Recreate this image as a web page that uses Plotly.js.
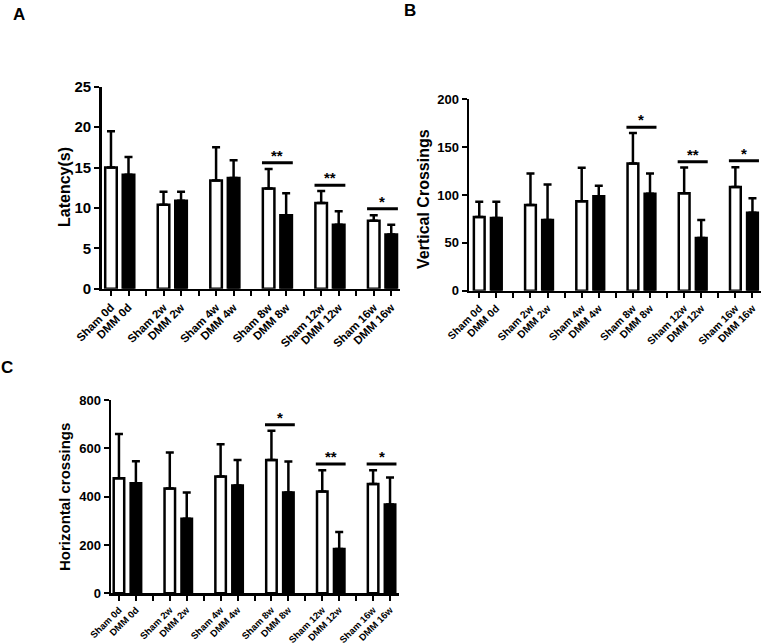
<!DOCTYPE html>
<html>
<head>
<meta charset="utf-8">
<script src="https://cdn.plot.ly/plotly-3.0.1.min.js"></script>
<style>html,body{margin:0;padding:0;background:#fff;}#chart{width:764px;height:644px;}</style>
</head>
<body>
<div id="chart"></div>
<script>
// ---- data ----
const tickLabels = ['Sham 0d','DMM 0d','','Sham 2w','DMM 2w','','Sham 4w','DMM 4w','',
                    'Sham 8w','DMM 8w','','Sham 12w','DMM 12w','','Sham 16w','DMM 16w'];
const timepoints = ['0d','2w','4w','8w','12w','16w'];

const latencySham    = [15.0, 10.4, 13.4, 12.4, 10.6, 8.4];
const latencyShamErr = [4.5, 1.6, 4.1, 2.4, 1.5, 0.7];
const latencyDMM     = [14.1, 10.9, 13.7, 9.1, 7.9, 6.7];
const latencyDMMErr  = [2.2, 1.1, 2.2, 2.7, 1.7, 1.2];
const latencySigGroup = [3, 4, 5];
const latencySigLevel = [15.6, 12.8, 9.9];
const latencySigText  = ['**', '**', '*'];

const verticalSham    = [77, 89.5, 93.4, 132.8, 101.7, 108.4];
const verticalShamErr = [16, 33, 35, 32, 27, 20.5];
const verticalDMM     = [76, 74, 98.6, 101.4, 55, 81.5];
const verticalDMMErr  = [17, 37, 11, 21, 19, 15];
const verticalSigGroup = [3, 4, 5];
const verticalSigLevel = [170.7, 134.8, 135.9];
const verticalSigText  = ['*', '**', '*'];

const horizontalSham    = [476, 434, 483, 552, 421, 452];
const horizontalShamErr = [183, 149, 134, 121, 88, 57];
const horizontalDMM     = [455, 309, 446, 417, 183, 368];
const horizontalDMMErr  = [91, 108, 106, 128, 71, 111];
const horizontalSigGroup = [3, 4, 5];
const horizontalSigLevel = [698, 535, 535];
const horizontalSigText  = ['*', '**', '*'];

// ---- build ----
const FONT = 'Arial, "Liberation Sans", sans-serif';
const W = 764, H = 644;
const traces = [];
const annotations = [];

function addPanel(sfx, sham, shamErr, dmm, dmmErr, sigG, sigL, sigT, barW) {
  const xa = 'x' + sfx, ya = 'y' + sfx;
  const shamX = sham.map((_, i) => 3 * i);
  const dmmX = dmm.map((_, i) => 3 * i + 1);
  const errStyle = {type: 'data', symmetric: false, color: '#000', thickness: 2.5, width: 4};
  traces.push({
    type: 'bar', x: shamX, y: sham, width: barW, xaxis: xa, yaxis: ya,
    marker: {color: '#fff', line: {color: '#000', width: 2.5}},
    error_y: Object.assign({array: shamErr, arrayminus: sham.map(() => 0)}, errStyle),
    showlegend: false, hoverinfo: 'skip'
  });
  traces.push({
    type: 'bar', x: dmmX, y: dmm, width: barW, xaxis: xa, yaxis: ya,
    marker: {color: '#000', line: {color: '#000', width: 2.5}},
    error_y: Object.assign({array: dmmErr, arrayminus: dmm.map(() => 0)}, errStyle),
    showlegend: false, hoverinfo: 'skip'
  });
  const lx = [], ly = [];
  sigG.forEach((g, k) => {
    lx.push(3 * g - 0.38, 3 * g + 1.38, null);
    ly.push(sigL[k], sigL[k], null);
    annotations.push({
      xref: xa, yref: ya, x: 3 * g + 0.5, y: sigL[k], text: '<b>' + sigT[k] + '</b>',
      showarrow: false, yanchor: 'bottom', yshift: -3,
      font: {family: FONT, size: 15, color: '#000'}
    });
  });
  traces.push({
    type: 'scatter', mode: 'lines', x: lx, y: ly, xaxis: xa, yaxis: ya,
    line: {color: '#000', width: 3}, showlegend: false, hoverinfo: 'skip', connectgaps: false
  });
}

addPanel('', latencySham, latencyShamErr, latencyDMM, latencyDMMErr,
         latencySigGroup, latencySigLevel, latencySigText, 0.66);
addPanel('2', verticalSham, verticalShamErr, verticalDMM, verticalDMMErr,
         verticalSigGroup, verticalSigLevel, verticalSigText, 0.63);
addPanel('3', horizontalSham, horizontalShamErr, horizontalDMM, horizontalDMMErr,
         horizontalSigGroup, horizontalSigLevel, horizontalSigText, 0.62);

function xAxis(x0, x1, r0, r1, yref, fs) {
  return {
    domain: [x0 / W, x1 / W], range: [r0, r1], anchor: yref,
    tickmode: 'array', tickvals: tickLabels.map((_, i) => i), ticktext: tickLabels,
    tickangle: -45, ticks: 'outside', ticklen: 5, tickwidth: 2, tickcolor: '#000',
    showline: true, linewidth: 2.5, linecolor: '#000', showgrid: false, zeroline: false,
    tickfont: {family: FONT, size: fs, weight: 'bold', color: '#000'}, fixedrange: true
  };
}
function yAxis(yBottom, yTop, rmax, dtick, xref, fs) {
  return {
    domain: [1 - yBottom / H, 1 - yTop / H], range: [0, rmax], anchor: xref,
    tick0: 0, dtick: dtick, ticks: 'outside', ticklen: 5, tickwidth: 2, tickcolor: '#000',
    showline: true, linewidth: 2.5, linecolor: '#000', showgrid: false, zeroline: false,
    tickfont: {family: FONT, size: fs, weight: 'bold', color: '#000'}, fixedrange: true
  };
}

function yTitle(text, cx, cy, size) {
  annotations.push({
    xref: 'paper', yref: 'paper', x: cx / W, y: 1 - cy / H, text: '<b>' + text + '</b>',
    textangle: -90, showarrow: false, xanchor: 'center', yanchor: 'middle',
    font: {family: FONT, size: size, color: '#000'}
  });
}
function letter(text, cx, cy) {
  annotations.push({
    xref: 'paper', yref: 'paper', x: cx / W, y: 1 - cy / H, text: '<b>' + text + '</b>',
    showarrow: false, xanchor: 'center', yanchor: 'middle',
    font: {family: FONT, size: 17, color: '#000'}
  });
}
yTitle('Latency(s)', 64, 187, 16);
yTitle('Vertical Crossings', 424, 199, 16);
yTitle('Horizontal crossings', 64, 497, 15);
letter('A', 19, 15);
letter('B', 410, 11);
letter('C', 7, 367);

const layout = {
  width: W, height: H, margin: {l: 0, r: 0, t: 0, b: 0},
  paper_bgcolor: '#fff', plot_bgcolor: 'rgba(0,0,0,0)',
  barmode: 'overlay', showlegend: false,
  font: {family: FONT, color: '#000'},
  xaxis: xAxis(101.7, 400, -0.53, 16.5, 'y', 11.5),
  yaxis: yAxis(288.7, 86.7, 25, 5, 'x', 15),
  xaxis2: xAxis(469, 761, -0.6, 16.5, 'y2', 10.5),
  yaxis2: yAxis(290.7, 99.3, 200, 50, 'x2', 13),
  xaxis3: xAxis(111, 398.5, -0.47, 16.5, 'y3', 9.5),
  yaxis3: yAxis(593.3, 400, 800, 200, 'x3', 13),
  annotations: annotations
};

Plotly.newPlot('chart', traces, layout, {staticPlot: true, displayModeBar: false});
</script>
</body>
</html>
